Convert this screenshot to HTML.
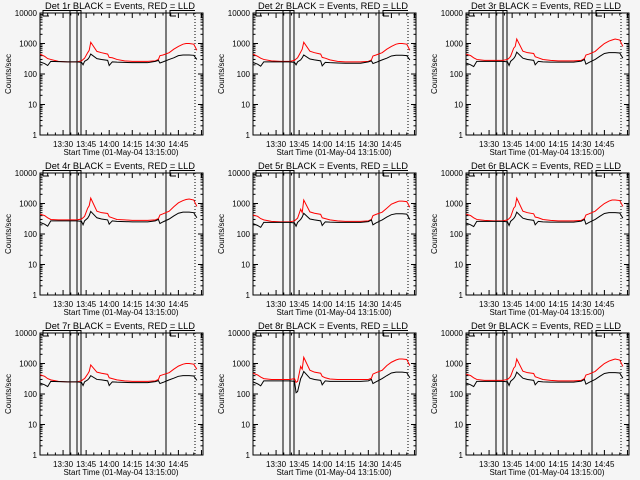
<!DOCTYPE html>
<html><head><meta charset="utf-8"><style>
html,body{margin:0;padding:0;background:#f5f5f5;}
svg{display:block;font-family:"Liberation Sans",sans-serif;}
</style></head><body>
<svg id="fig" width="640" height="480" viewBox="0 0 640 480"></svg>
<script>
// time in minutes after 13:15
const times = [0,3,5,7,12,18,24,27,28,29,31,32,33,37,40,44,45,47,50,55,60,70,75,77,78,80,84,87,90,93,95,97,100,102];
const detectors = ["1r","2r","3r","4r","5r","6r","7r","8r","9r"];
const redSeries = [
 [450,380,320,300,260,250,250,270,300,330,500,600,1100,550,500,450,350,340,300,270,260,260,270,300,400,420,500,650,800,950,1000,1000,950,600],
 [450,380,330,300,270,260,260,280,310,340,520,650,1100,560,500,450,350,330,290,260,250,250,260,290,390,420,500,650,800,950,1000,1000,950,600],
 [450,400,340,300,280,280,280,300,330,380,700,800,1400,560,500,470,370,340,300,280,270,270,280,320,420,450,550,750,1000,1200,1300,1400,1300,800],
 [450,400,340,300,290,290,290,310,340,380,700,850,1500,560,500,470,370,340,300,290,280,280,290,320,420,460,560,780,1050,1250,1350,1400,1300,800],
 [420,380,320,290,260,250,250,270,300,330,650,500,1300,530,480,440,340,320,290,270,260,260,270,300,400,440,520,700,950,1100,1200,1200,1150,750],
 [450,400,340,300,280,270,270,290,320,360,700,800,1500,560,500,460,360,340,300,280,270,270,280,320,420,460,560,760,1000,1200,1300,1300,1250,800],
 [430,380,320,290,260,250,250,270,300,320,450,550,900,520,480,440,340,320,290,270,260,260,270,300,400,430,500,650,820,950,1000,1000,950,650],
 [480,420,360,320,300,300,300,320,240,260,800,650,1600,600,520,480,380,340,310,300,300,300,300,330,450,500,600,850,1100,1300,1400,1400,1350,850],
 [450,400,340,300,280,280,280,300,330,380,700,800,1400,560,500,470,370,340,300,280,270,270,280,320,420,450,550,750,1000,1200,1300,1400,1300,800]
];
const blackSeries = [
 [250,220,190,260,255,250,250,240,200,260,300,350,450,320,300,280,190,250,245,240,235,235,260,280,230,250,300,340,400,420,420,420,410,300],
 [240,210,180,250,250,250,250,240,200,250,290,340,420,310,290,270,185,240,235,230,225,225,250,270,220,240,290,330,390,410,410,410,400,290],
 [230,200,175,260,260,260,260,250,190,260,320,380,520,330,300,280,200,260,250,245,245,245,265,300,210,240,300,380,470,500,500,500,490,330],
 [240,210,180,270,270,270,270,260,200,270,330,400,550,340,310,290,210,270,260,255,250,250,270,300,220,250,310,390,480,520,520,520,500,340],
 [220,190,165,240,240,240,240,230,180,240,300,360,480,310,290,270,190,250,245,240,240,240,255,290,200,230,290,360,430,460,460,460,450,300],
 [230,200,175,260,260,260,260,250,190,260,320,380,520,330,300,280,200,260,250,245,245,245,265,300,210,240,300,380,470,500,500,500,490,330],
 [230,200,175,260,255,250,250,240,190,250,290,330,400,300,290,270,190,250,245,240,235,235,255,275,220,240,290,330,380,400,400,400,390,280],
 [250,215,185,270,270,270,270,260,110,120,320,400,550,330,300,280,200,270,260,260,260,260,270,300,220,250,320,400,490,520,520,520,500,340],
 [230,200,175,260,260,260,260,250,190,260,320,380,520,330,300,280,200,260,250,245,245,245,265,300,210,240,300,380,470,500,500,500,490,330]
];
const xTickMinutes = [15,30,45,60,75,90];
const xTickLabels = ["13:30","13:45","14:00","14:15","14:30","14:45"];
const yTickValues = [1,10,100,1000,10000];
const yTickLabels = ["1","10","100","1000","10000"];

const NS="http://www.w3.org/2000/svg";
const svg=document.getElementById('fig');
function mk(tag,attrs,parent){const e=document.createElementNS(NS,tag);for(const k in attrs)e.setAttribute(k,attrs[k]);parent.appendChild(e);return e;}
const X0=40,X1=203,Y0=13,Y1=135,TMAX=106;
function sx(t){return X0+(t/TMAX)*(X1-X0);}
function sy(v){return Y1-(Math.log10(v)/4)*(Y1-Y0);}

detectors.forEach((d,i)=>{
  const g=mk('g',{transform:`translate(${(i%3)*213},${Math.floor(i/3)*160})`},svg);
  
  
  const box=mk('rect',{x:X0,y:Y0,width:X1-X0,height:Y1-Y0,fill:'none',stroke:'#000','stroke-width':1},g);
  
  
  // y ticks
  yTickValues.forEach((v,k)=>{
    const y=sy(v);
    mk('line',{x1:X0,x2:X0+5,y1:y,y2:y,stroke:'#000'},g);
    mk('line',{x1:X1-5,x2:X1,y1:y,y2:y,stroke:'#000'},g);
    const t=mk('text',{x:X0-3,y:y+3,'font-size':8,'text-anchor':'end'},g);
    t.textContent=yTickLabels[k];
    
    
    if(k<yTickValues.length-1){for(let m=2;m<10;m++){const ym=sy(v*m);
      mk('line',{x1:X0,x2:X0+2.5,y1:ym,y2:ym,stroke:'#000'},g);
      mk('line',{x1:X1-2.5,x2:X1,y1:ym,y2:ym,stroke:'#000'},g);}}
  });
  // x ticks
  for(let m=5;m<TMAX;m+=5){const x=sx(m);const maj=m%15===0;
    mk('line',{x1:x,x2:x,y1:Y1,y2:Y1-(maj?5:2.5),stroke:'#000'},g);
    mk('line',{x1:x,x2:x,y1:Y0,y2:Y0+(maj?5:2.5),stroke:'#000'},g);}
  xTickMinutes.forEach((m,k)=>{
    const t=mk('text',{x:sx(m),y:147,'font-size':8,'text-anchor':'middle'},g);
    t.textContent=xTickLabels[k];
    
    
  });
  const xt=mk('text',{x:121,y:155,'font-size':8,'text-anchor':'middle',textLength:115,lengthAdjust:'spacingAndGlyphs'},g);
  xt.textContent='Start Time (01-May-04 13:15:00)';
  
  
  const yt=mk('text',{x:0,y:0,'font-size':8,'text-anchor':'middle',transform:'translate(11,74) rotate(-90)'},g);
  yt.textContent='Counts/sec';
  
  
  const tt=mk('text',{x:120,y:9,'font-size':9,'text-anchor':'middle',textLength:150,lengthAdjust:'spacingAndGlyphs'},g);
  tt.textContent=`Det ${d} BLACK = Events, RED = LLD`;
  
  
  // markers
  [70,77,81,166].forEach(x=>mk('line',{x1:x,x2:x,y1:10,y2:Y1,stroke:'#000'},g));
  mk('line',{x1:195,x2:195,y1:Y0,y2:Y1,stroke:'#000','stroke-dasharray':'1,2'},g);
  mk('polyline',{points:'43,16 43,10.5 81,10.5',fill:'none',stroke:'#000'},g);
  mk('line',{x1:43,x2:49,y1:16,y2:16,stroke:'#000'},g);
  mk('polyline',{points:'170,16 170,10.5 195,10.5',fill:'none',stroke:'#000'},g);
  mk('line',{x1:170,x2:176,y1:16,y2:16,stroke:'#000'},g);
  // series
  const red=mk('polyline',{points:times.map((t,k)=>sx(t)+','+sy(redSeries[i][k])).join(' '),fill:'none',stroke:'#ff0000','stroke-width':1},g);
  
  
  const blk=mk('polyline',{points:times.map((t,k)=>sx(t)+','+sy(blackSeries[i][k])).join(' '),fill:'none',stroke:'#000','stroke-width':1},g);
  
  
});
</script>
</body></html>
